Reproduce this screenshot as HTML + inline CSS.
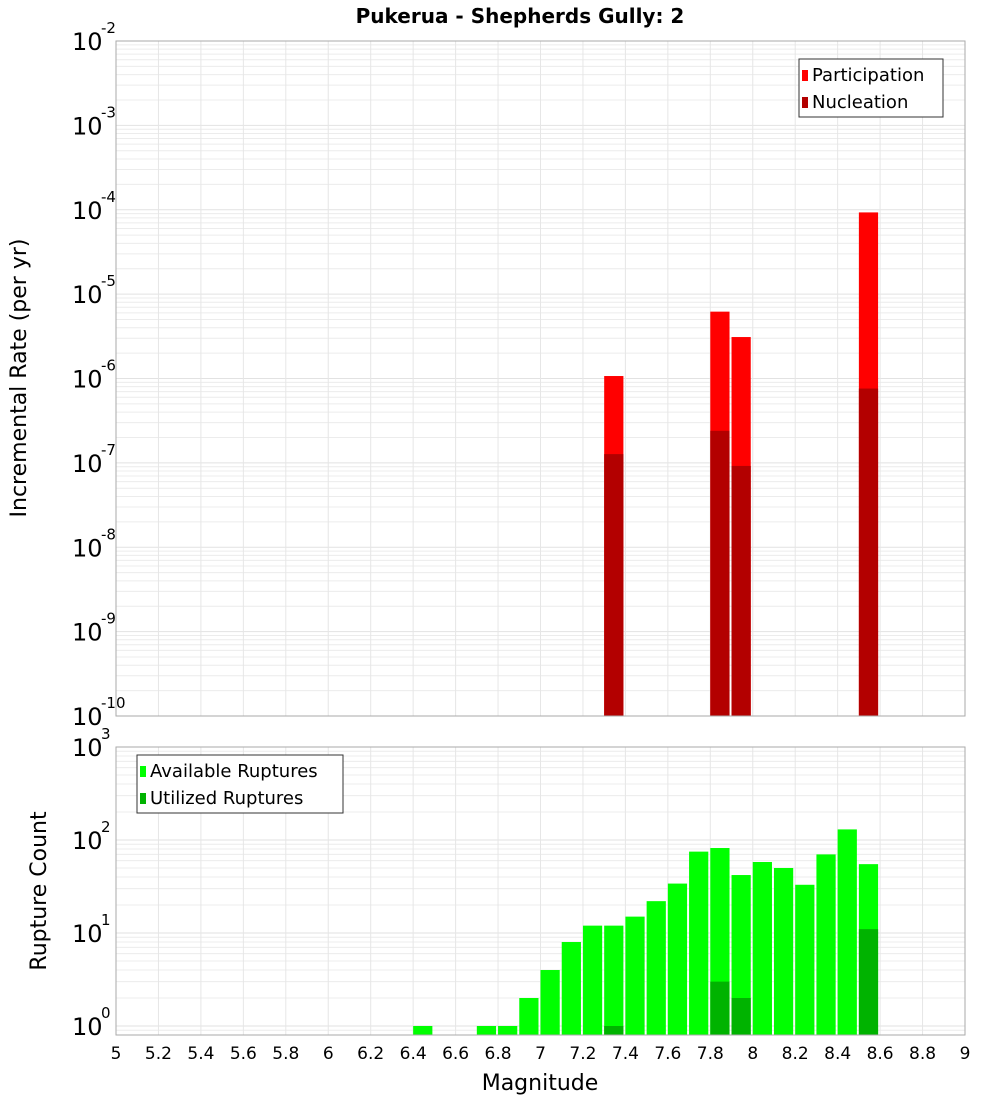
<!DOCTYPE html>
<html><head><meta charset="utf-8"><style>
body{margin:0;background:#fff;}
svg text{font-family:"DejaVu Sans","Liberation Sans",sans-serif;}
</style></head><body>
<svg id="c" width="1000" height="1100" xmlns="http://www.w3.org/2000/svg">
<text x="520" y="23" text-anchor="middle" font-size="20" font-weight="bold">Pukerua - Shepherds Gully: 2</text>
<g id="topPlot"></g>
<g id="botPlot"></g>
<text transform="translate(26,378) rotate(-90)" text-anchor="middle" font-size="22">Incremental Rate (per yr)</text>
<text transform="translate(46,891) rotate(-90)" text-anchor="middle" font-size="22">Rupture Count</text>
<text x="540" y="1090" text-anchor="middle" font-size="22">Magnitude</text>
</svg>
<script>
const binStarts=[6.4,6.7,6.8,6.9,7.0,7.1,7.2,7.3,7.4,7.5,7.6,7.7,7.8,7.9,8.0,8.1,8.2,8.3,8.4,8.5];
const available=[1,1,1,2,4,8,12,12,15,22,34,75,82,42,58,50,33,70,130,55];
const utilizedBins=[7.3,7.8,7.9,8.5];
const utilized=[1,3,2,11];
const rateBins=[7.3,7.8,7.9,8.5];
const participation=[1.07e-6,6.2e-6,3.1e-6,9.3e-5];
const nucleation=[1.27e-7,2.4e-7,9.2e-8,7.6e-7];
const xTicks=[5,5.2,5.4,5.6,5.8,6,6.2,6.4,6.6,6.8,7,7.2,7.4,7.6,7.8,8,8.2,8.4,8.6,8.8,9];
const topExps=[-2,-3,-4,-5,-6,-7,-8,-9,-10];
const botExps=[3,2,1,0];

const NS="http://www.w3.org/2000/svg";
const X0=116,X1=965;
const x=m=>X0+(m-5)/4*(X1-X0);
const yTop=v=>41+(-2-Math.log10(v))*84.375;
const yBot=v=>1026-Math.log10(v)*93;
function el(p,t,a){const e=document.createElementNS(NS,t);for(const k in a)e.setAttribute(k,a[k]);p.appendChild(e);return e;}
const gTop=document.getElementById('topPlot'),gBot=document.getElementById('botPlot');

function frame(g,y0,y1,decades,yf){
  let r=el(g,'rect',{x:X0,y:y0,width:X1-X0,height:y1-y0,fill:'#fff'});
  
  
  decades.forEach(d=>{for(let k=1;k<10;k++){const yy=yf(k*Math.pow(10,d));if(yy>=y0&&yy<=y1){
    let l=el(g,'line',{x1:X0,x2:X1,y1:yy,y2:yy,stroke:k==1?'#e2e2e2':'#ececec','stroke-width':1});
    
    }}});
  xTicks.forEach(t=>{let l=el(g,'line',{x1:x(t),x2:x(t),y1:y0,y2:y1,stroke:'#e6e6e6'});
    
    });
}
frame(gTop,41,716,[-10,-9,-8,-7,-6,-5,-4,-3],yTop);
frame(gBot,747,1035,[-1,0,1,2],yBot);

const bw=(X1-X0)/40-2;
rateBins.forEach((b,i)=>{
  let r=el(gTop,'rect',{x:x(b),y:yTop(participation[i]),width:bw,height:716-yTop(participation[i]),fill:'#ff0000'});
  
  
  let n=el(gTop,'rect',{x:x(b),y:yTop(nucleation[i]),width:bw,height:716-yTop(nucleation[i]),fill:'#b30000'});
  
  
});
binStarts.forEach((b,i)=>{
  let r=el(gBot,'rect',{x:x(b),y:yBot(available[i]),width:bw,height:1035-yBot(available[i]),fill:'#00ff00'});
  
  
});
utilizedBins.forEach((b,i)=>{
  let r=el(gBot,'rect',{x:x(b),y:yBot(utilized[i]),width:bw,height:1035-yBot(utilized[i]),fill:'#00b300'});
  
  
});
[[41,716,gTop],[747,1035,gBot]].forEach(([a,b,g])=>{
  let r=el(g,'rect',{x:X0,y:a,width:X1-X0,height:b-a,fill:'none',stroke:'#aaa'});
  
  
});
function ylab(g,e,yy){
  let t=el(g,'text',{x:72,y:yy+9,'font-size':24});
  
  
  t.textContent='10';
  let s=el(g,'text',{x:101,y:yy-8,'font-size':15});
  
  
  s.textContent=String(e);
}
topExps.forEach(e=>ylab(gTop,e,yTop(Math.pow(10,e))));
botExps.forEach(e=>ylab(gBot,e,yBot(Math.pow(10,e))));
xTicks.forEach(t=>{
  let l=el(gBot,'text',{x:x(t),y:1059,'text-anchor':'middle','font-size':17});
  
  
  l.textContent=String(t);
});
function legend(g,lx,ly,w,items){
  let r=el(g,'rect',{x:lx,y:ly,width:w,height:58,fill:'#fff',stroke:'#333'});
  
  
  items.forEach(([lab,col],i)=>{
    let s=el(g,'rect',{x:lx+3,y:ly+11+i*27,width:6,height:11,fill:col});
    
    
    let t=el(g,'text',{x:lx+13,y:ly+22+i*27,'font-size':18});
    
    
    t.textContent=lab;
  });
}
legend(gTop,799,59,144,[['Participation','#ff0000'],['Nucleation','#b30000']]);
legend(gBot,137,755,206,[['Available Ruptures','#00ff00'],['Utilized Ruptures','#00b300']]);
</script>
</body></html>
